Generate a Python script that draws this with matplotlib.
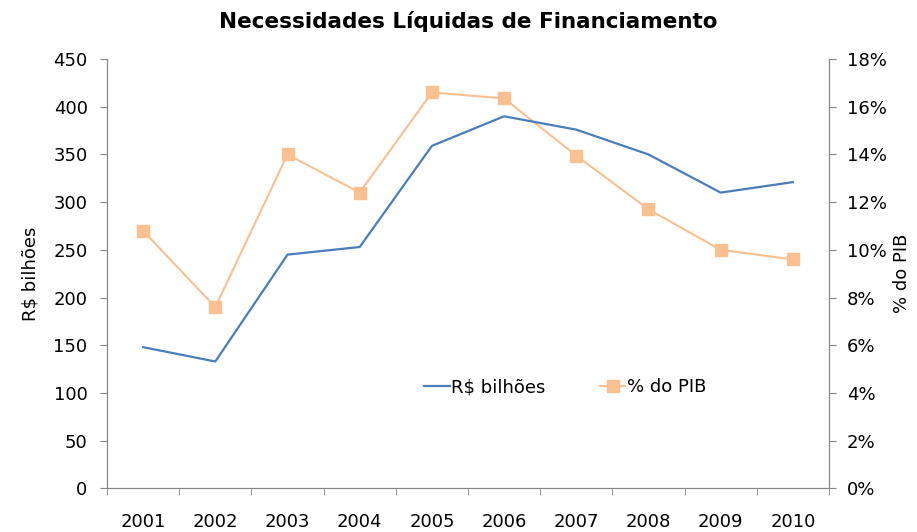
import matplotlib.pyplot as plt
import numpy as np

# dados
anos = ['2001', '2002', '2003', '2004', '2005', '2006', '2007', '2008', '2009', '2010']
rs_bilhoes = [148, 133, 245, 253, 359, 390, 376, 350, 310, 321]
pct_pib = [10.8, 7.6, 14.0, 12.4, 16.6, 16.35, 13.95, 11.7, 10.0, 9.6]

blue = '#4A7EBB'
orange = '#FAC090'
spine_col = '#868686'
fs = 13

plt.rcParams['font.family'] = 'DejaVu Sans'

fig = plt.figure(figsize=(9.17, 5.32), dpi=100)
ax = fig.add_axes([0.1167, 0.082, 0.7873, 0.807])
ax2 = ax.twinx()

x = np.arange(len(anos))
l1, = ax.plot(x, rs_bilhoes, color=blue, linewidth=1.6, label='R$ bilhões', zorder=3)
l2, = ax2.plot(x, pct_pib, color=orange, linewidth=1.5, marker='s', markersize=8.5,
               label='% do PIB', zorder=2)

ax.set_xlim(-0.5, len(anos) - 0.5)
ax.set_ylim(0, 450)
ax.set_yticks(np.arange(0, 451, 50))
ax2.set_ylim(0, 18)
ax2.set_yticks(np.arange(0, 19, 2))
ax2.set_yticklabels([f'{v}%' for v in range(0, 19, 2)])

# rotulos no centro, marcas nas divisoes das categorias
ax.set_xticks(x)
ax.set_xticklabels(anos)
ax.set_xticks(np.arange(-0.5, len(anos)), minor=True)
ax.tick_params(axis='x', which='major', length=0, pad=18, labelsize=fs)
ax.tick_params(axis='x', which='minor', length=5, color=spine_col, direction='out')
ax.tick_params(axis='y', length=5, color=spine_col, pad=9, labelsize=fs)
ax2.tick_params(axis='y', length=5, color=spine_col, pad=8, labelsize=fs)

for a in (ax, ax2):
    a.spines['top'].set_visible(False)
    for s in ('left', 'right', 'bottom'):
        a.spines[s].set_color(spine_col)

ax.set_ylabel('R$ bilhões', fontsize=fs, labelpad=10)
ax2.set_ylabel('% do PIB', fontsize=fs, labelpad=4)
ax.set_title('Necessidades Líquidas de Financiamento', fontsize=15.5, fontweight='bold', pad=22)

ax.set_zorder(ax2.get_zorder() + 1)
ax.patch.set_visible(False)

ax.legend([l1, l2], ['R$ bilhões', '% do PIB'], loc='center', bbox_to_anchor=(0.635, 0.236),
          ncol=2, frameon=False, fontsize=fs, handlelength=1.4, handletextpad=0.1,
          columnspacing=3.0)

plt.savefig('out.png', dpi=100)
